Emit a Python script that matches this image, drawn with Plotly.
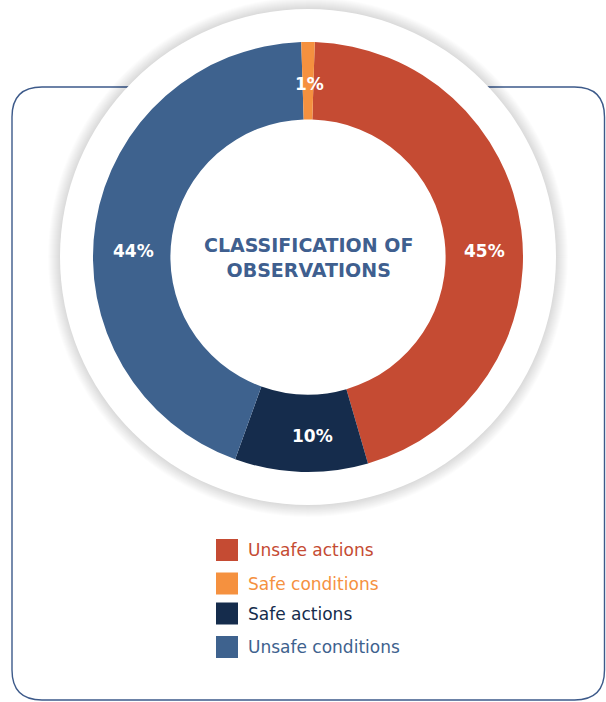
import plotly.graph_objects as go

# Observation categories, in clockwise drawing order around the ring
slice_labels = ["Unsafe actions", "Safe actions", "Unsafe conditions", "Safe conditions"]
slice_values = [45, 10, 44, 1]
slice_colors = ["#c54b33", "#152c4c", "#3e628e", "#f5913f"]

# Legend order and colours
legend_labels = ["Unsafe actions", "Safe conditions", "Safe actions", "Unsafe conditions"]
legend_colors = ["#c54b33", "#f5913f", "#152c4c", "#3e628e"]

W, H = 606, 702
CX, CY = 308, 257
R_OUT = 215
R_BACK = 248
BORDER = "#3d5a8a"
FONT = "DejaVu Sans"

fig = go.Figure()

fig.add_trace(go.Pie(
    labels=slice_labels,
    values=slice_values,
    sort=False,
    direction="clockwise",
    rotation=1.8,
    hole=0.64,
    marker=dict(colors=slice_colors, line=dict(width=0)),
    textinfo="none",
    domain=dict(x=[(CX - R_OUT) / W, (CX + R_OUT) / W],
                y=[1 - (CY + R_OUT) / H, 1 - (CY - R_OUT) / H]),
    showlegend=False,
    hoverinfo="label+value",
))

shapes = []

# Rounded card outline
x0, x1, y0, y1, r = 12, 604.5, 87, 700, 30
path = (f"M {x0 + r},{y0} L {x1 - r},{y0} Q {x1},{y0} {x1},{y0 + r} "
        f"L {x1},{y1 - r} Q {x1},{y1} {x1 - r},{y1} "
        f"L {x0 + r},{y1} Q {x0},{y1} {x0},{y1 - r} "
        f"L {x0},{y0 + r} Q {x0},{y0} {x0 + r},{y0} Z")
shapes.append(dict(type="path", path=path, xref="x", yref="y", layer="below",
                   line=dict(color=BORDER, width=1.4), fillcolor="rgba(0,0,0,0)"))

# Soft shadow around the white backing disc
for k in range(12, 0, -1):
    rr = R_BACK + k
    shapes.append(dict(type="circle", xref="x", yref="y", layer="below",
                       x0=CX - rr, x1=CX + rr, y0=CY - rr, y1=CY + rr,
                       line=dict(width=0), fillcolor="rgba(0,0,0,0.010)"))
shapes.append(dict(type="circle", xref="x", yref="y", layer="below",
                   x0=CX - R_BACK, x1=CX + R_BACK, y0=CY - R_BACK, y1=CY + R_BACK,
                   line=dict(width=0), fillcolor="white"))

annotations = []

# Percentage labels on the ring (same order as the slices)
label_pos = [(484, 251), (312, 436), (133, 251), (309, 84)]
for v, (lx, ly) in zip(slice_values, label_pos):
    annotations.append(dict(x=lx, y=ly, xref="x", yref="y", text=f"{v}%",
                            showarrow=False, xanchor="center", yanchor="middle",
                            font=dict(family=FONT, size=17, color="white", weight="bold")))

# Legend swatches
row_y = [550, 583.5, 613.5, 647]
for lab, col, yy in zip(legend_labels, legend_colors, row_y):
    shapes.append(dict(type="rect", xref="x", yref="y", layer="above",
                       x0=216, x1=238, y0=yy - 11, y1=yy + 11,
                       line=dict(width=0), fillcolor=col))
    annotations.append(dict(x=246, y=yy, xref="x", yref="y", text=lab,
                            showarrow=False, xanchor="left", yanchor="middle",
                            font=dict(family=FONT, size=17, color=col)))

# Centre title
annotations.append(dict(x=CX, y=CY, xref="x", yref="y",
                        text="CLASSIFICATION OF<br>OBSERVATIONS",
                        showarrow=False, xanchor="center", yanchor="middle",
                        font=dict(family=FONT, size=19, color="#3f5f8f", weight="bold")))

fig.update_layout(
    width=W, height=H,
    margin=dict(l=0, r=0, t=0, b=0),
    paper_bgcolor="white", plot_bgcolor="white",
    xaxis=dict(range=[0, W], visible=False, fixedrange=True),
    yaxis=dict(range=[H, 0], visible=False, fixedrange=True),
    shapes=shapes,
    annotations=annotations,
)

fig.write_html("out.html")
